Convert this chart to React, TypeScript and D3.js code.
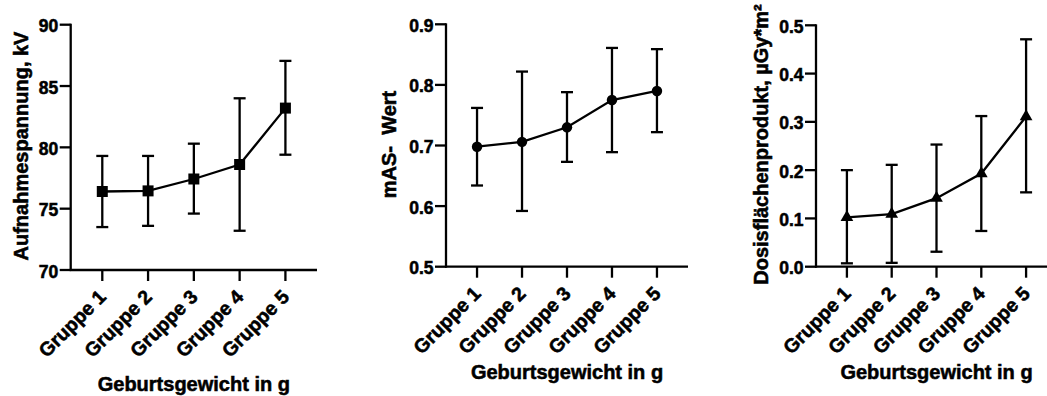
import React from "react";
import * as d3 from "d3";

// Gruppen nach Geburtsgewicht
const groups = ["Gruppe 1", "Gruppe 2", "Gruppe 3", "Gruppe 4", "Gruppe 5"];

// Aufnahmespannung (kV): Mittelwert und Fehlerbalken
const kvMean = [76.4, 76.45, 77.42, 78.6, 83.2];
const kvLow = [73.5, 73.6, 74.6, 73.2, 79.4];
const kvHigh = [79.3, 79.3, 80.3, 84.0, 87.05];
const kvTicks = [70, 75, 80, 85, 90];

// mAs-Wert
const masMean = [0.698, 0.706, 0.730, 0.775, 0.790];
const masLow = [0.634, 0.592, 0.673, 0.689, 0.722];
const masHigh = [0.762, 0.822, 0.788, 0.861, 0.859];
const masTicks = [0.5, 0.6, 0.7, 0.8, 0.9];

// Dosisflächenprodukt
const dapMean = [0.102, 0.109, 0.142, 0.193, 0.311];
const dapLow = [0.007, 0.008, 0.031, 0.074, 0.154];
const dapHigh = [0.2, 0.211, 0.253, 0.312, 0.471];
const dapTicks = [0.0, 0.1, 0.2, 0.3, 0.4, 0.5];

const FONT = "Arial, 'Liberation Sans', Helvetica, sans-serif";
// leichte Kontur für kräftigere Schrift
const textStyle = { stroke: "#000", strokeWidth: 0.55, paintOrder: "stroke" } as const;

type PanelProps = {
  left: number;
  right: number;
  top: number;
  bottom: number;
  domain: [number, number];
  ticks: number[];
  fmt: (v: number) => string;
  mean: number[];
  low: number[];
  high: number[];
  symbol: d3.SymbolType;
  symbolSize: number;
  yTitle: string;
  yTitleOffset: number;
  yTitleCenter: number;
  xTitleOffset: number;
};

function Panel(p: PanelProps) {
  const x = d3.scalePoint<string>().domain(groups).range([p.left, p.right]).padding(0.69);
  const y = d3.scaleLinear().domain(p.domain).range([p.bottom, p.top]);
  const line = d3
    .line<number>()
    .x((_, i) => x(groups[i])!)
    .y((d) => y(d));
  const sym = d3.symbol().type(p.symbol).size(p.symbolSize)();
  const capW = 6;
  const tickLen = 11;
  const stroke = 2.3;
  return (
    <g>
      {/* Fehlerbalken */}
      {groups.map((g, i) => (
        <g key={"eb" + g} stroke="#000" strokeWidth={stroke} fill="none">
          <line x1={x(g)} x2={x(g)} y1={y(p.low[i])} y2={y(p.high[i])} />
          <line x1={x(g)! - capW} x2={x(g)! + capW} y1={y(p.low[i])} y2={y(p.low[i])} />
          <line x1={x(g)! - capW} x2={x(g)! + capW} y1={y(p.high[i])} y2={y(p.high[i])} />
        </g>
      ))}
      <path d={line(p.mean) ?? ""} fill="none" stroke="#000" strokeWidth={stroke} />
      {groups.map((g, i) => (
        <path key={"m" + g} d={sym ?? ""} transform={`translate(${x(g)},${y(p.mean[i])})`} fill="#000" />
      ))}
      {/* y-Achse */}
      <line x1={p.left} x2={p.left} y1={p.top - 1} y2={p.bottom + 1} stroke="#000" strokeWidth={stroke} />
      {p.ticks.map((t) => (
        <g key={"yt" + t}>
          <line x1={p.left - tickLen} x2={p.left} y1={y(t)} y2={y(t)} stroke="#000" strokeWidth={stroke} />
          <text
            x={p.left - tickLen - 1.5}
            y={y(t)}
            dy="0.43em"
            textAnchor="end"
            fontFamily={FONT}
            fontWeight="bold"
            fontSize={17.5}
            fill="#000"
            style={textStyle}
          >
            {p.fmt(t)}
          </text>
        </g>
      ))}
      {/* x-Achse */}
      <line x1={p.left - 1} x2={p.right} y1={p.bottom} y2={p.bottom} stroke="#000" strokeWidth={stroke} />
      {groups.map((g) => (
        <g key={"xt" + g}>
          <line x1={x(g)} x2={x(g)} y1={p.bottom} y2={p.bottom + tickLen} stroke="#000" strokeWidth={stroke} />
          <text
            transform={`translate(${x(g)! + 5},${p.bottom + 28}) rotate(-45)`}
            textAnchor="end"
            fontFamily={FONT}
            fontWeight="bold"
            fontSize={19.5}
            fill="#000"
            style={textStyle}
          >
            {g}
          </text>
        </g>
      ))}
      <text
        x={(p.left + p.right) / 2}
        y={p.bottom + p.xTitleOffset}
        textAnchor="middle"
        fontFamily={FONT}
        fontWeight="bold"
        fontSize={20}
        fill="#000"
        style={textStyle}
      >
        Geburtsgewicht in g
      </text>
      <text
        transform={`translate(${p.left - p.yTitleOffset},${p.yTitleCenter}) rotate(-90)`}
        textAnchor="middle"
        fontFamily={FONT}
        fontWeight="bold"
        fontSize={20}
        fill="#000"
        style={textStyle}
      >
        {p.yTitle}
      </text>
    </g>
  );
}

export default function App() {
  const f0 = d3.format("d");
  const f1 = d3.format(".1f");
  return (
    <div>
      <style>{`body{margin:0}`}</style>
      <svg width={1047} height={396} style={{ display: "block", background: "#fff" }}>
        <Panel
          left={70.7}
          right={317}
          top={24.7}
          bottom={270}
          domain={[70, 90]}
          ticks={kvTicks}
          fmt={f0}
          mean={kvMean}
          low={kvLow}
          high={kvHigh}
          symbol={d3.symbolSquare}
          symbolSize={121}
          yTitle="Aufnahmespannung, kV"
          yTitleOffset={42.4}
          yTitleCenter={146}
          xTitleOffset={121}
        />
        <Panel
          left={446}
          right={688}
          top={24.3}
          bottom={266.7}
          domain={[0.5, 0.9]}
          ticks={masTicks}
          fmt={f1}
          mean={masMean}
          low={masLow}
          high={masHigh}
          symbol={d3.symbolCircle}
          symbolSize={85}
          yTitle={"mAS-\u00A0 Wert"}
          yTitleOffset={50}
          yTitleCenter={144.5}
          xTitleOffset={112.3}
        />
        <Panel
          left={816}
          right={1057}
          top={25.3}
          bottom={266.7}
          domain={[0, 0.5]}
          ticks={dapTicks}
          fmt={f1}
          mean={dapMean}
          low={dapLow}
          high={dapHigh}
          symbol={d3.symbolTriangle}
          symbolSize={70}
          yTitle="Dosisflächenprodukt, µGy*m²"
          yTitleOffset={48}
          yTitleCenter={144.5}
          xTitleOffset={112.3}
        />
      </svg>
    </div>
  );
}
